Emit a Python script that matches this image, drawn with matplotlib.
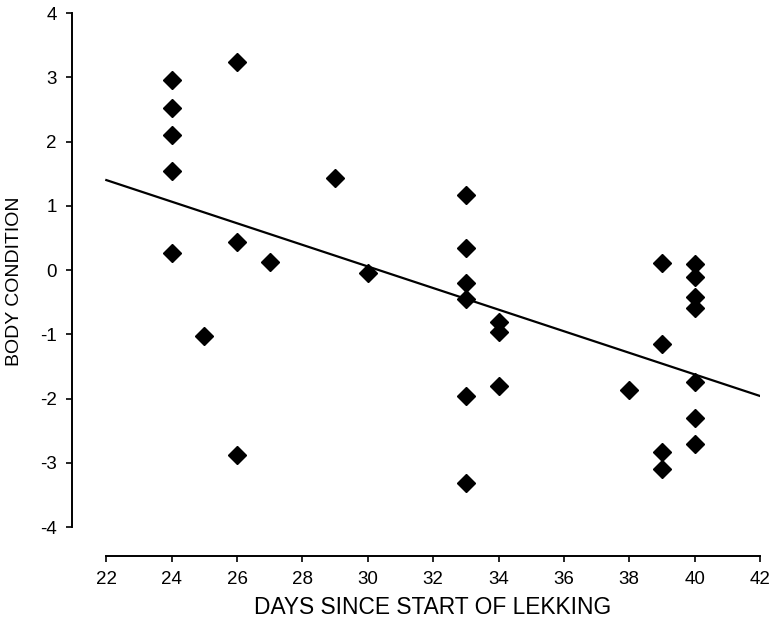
import numpy as np
import matplotlib
matplotlib.use('Agg')
import matplotlib.pyplot as plt

plt.rcParams['font.family'] = ['Liberation Sans', 'DejaVu Sans']
plt.rcParams['axes.unicode_minus'] = False

# data
days = [24, 24, 24, 24, 24,
        25,
        26, 26, 26,
        27, 29, 30,
        33, 33, 33, 33, 33, 33,
        34, 34, 34,
        38,
        39, 39, 39, 39,
        40, 40, 40, 40, 40, 40, 40]
condition = [2.96, 2.52, 2.10, 1.54, 0.26,
             -1.03,
             3.24, 0.44, -2.88,
             0.12, 1.43, -0.05,
             1.17, 0.34, -0.20, -0.45, -1.96, -3.32,
             -0.81, -0.96, -1.81,
             -1.87,
             0.11, -1.15, -2.83, -3.10,
             0.09, -0.11, -0.42, -0.59, -1.74, -2.30, -2.71]

# regression line end points
fit_x = [22, 42]
fit_y = [1.40, -1.96]

x_ticks = list(range(22, 43, 2))
y_ticks = list(range(-4, 5))

W, H = 772, 631
fig = plt.figure(figsize=(W / 100, H / 100), dpi=100)
ax = fig.add_axes([72 / W, 1 - 556 / H, (760 - 72) / W, (556 - 13) / H])

ax.plot(fit_x, fit_y, color='black', lw=1.6, zorder=2)
ax.plot(days, condition, linestyle='none', marker='D', ms=9.5,
        color='black', zorder=3)

ax.set_xlim(20.95, 42)
ax.set_ylim(-4.45, 4)

ax.spines['top'].set_visible(False)
ax.spines['right'].set_visible(False)
ax.spines['left'].set_bounds(-4, 4)
ax.spines['bottom'].set_bounds(22, 42)
for s in ['left', 'bottom']:
    ax.spines[s].set_linewidth(1.4)

ax.set_xticks(x_ticks)
ax.set_yticks(y_ticks)
ax.tick_params(direction='out', length=4, width=1.2, labelsize=13.5, pad=7)

# axis titles placed in figure coordinates
fig.text(433 / W, 1 - 607 / H, 'DAYS SINCE START OF LEKKING', fontsize=16.4,
         ha='center', va='center')
fig.text(15 / W, 1 - 281 / H, 'BODY CONDITION', fontsize=14,
         rotation=90, ha='center', va='center')

fig.savefig('out.png', dpi=100)
